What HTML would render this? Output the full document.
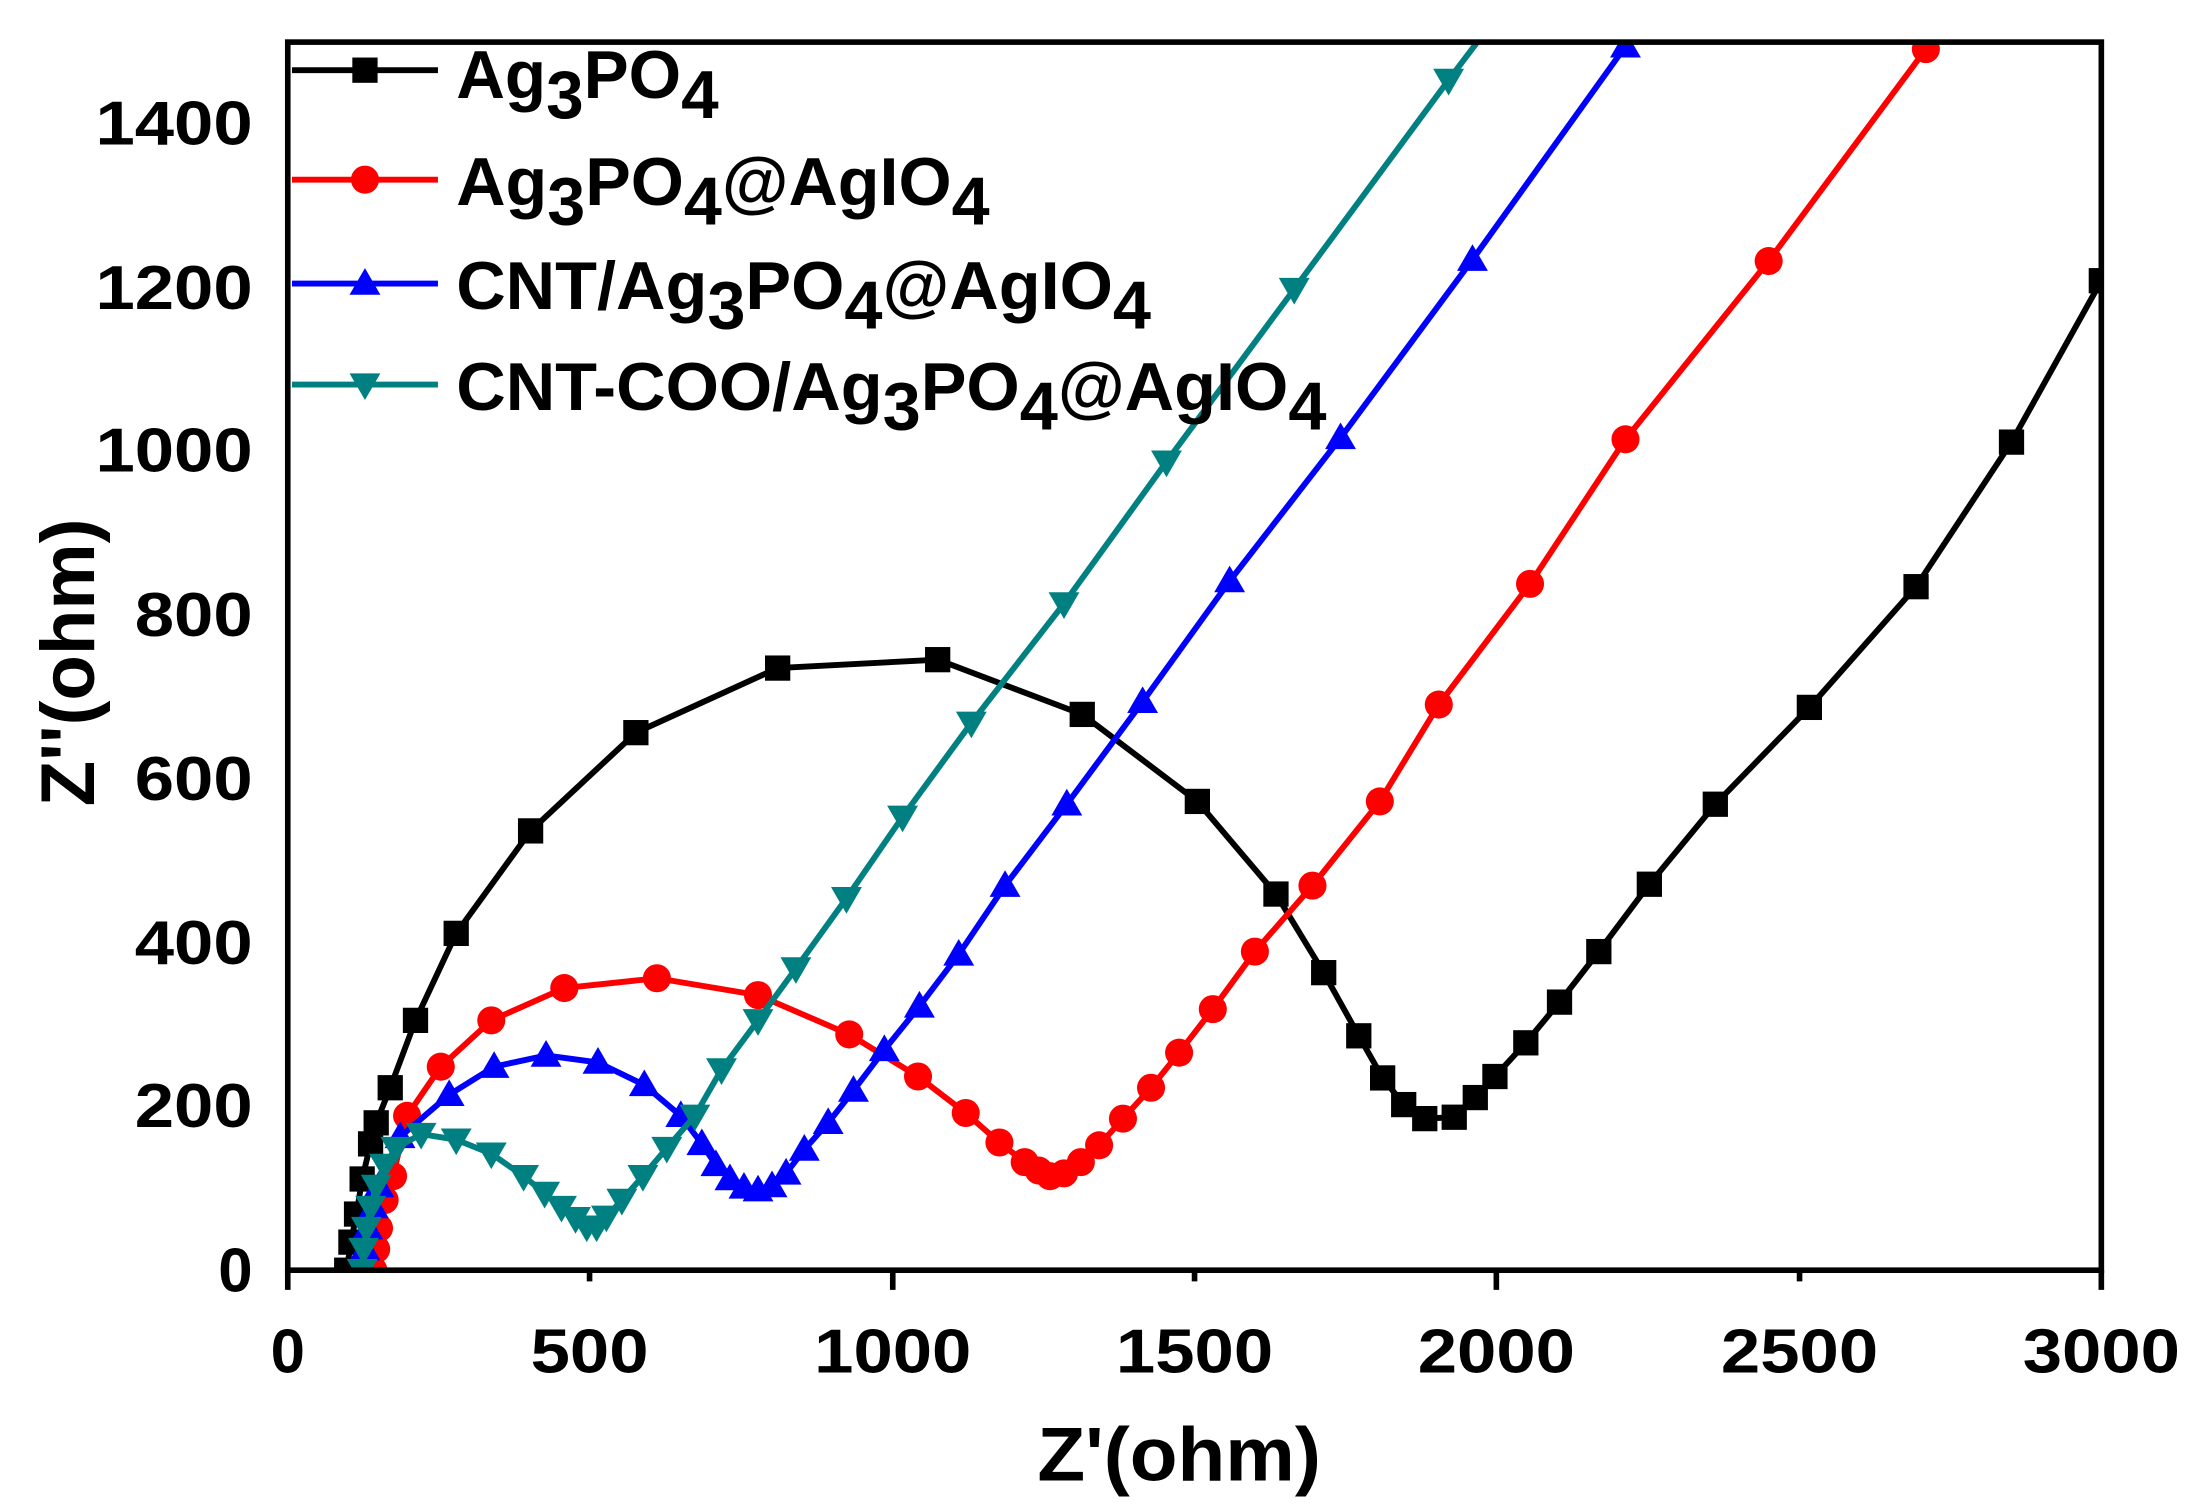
<!DOCTYPE html>
<html><head><meta charset="utf-8"><style>html,body{margin:0;padding:0;background:#fff}svg{display:block}</style></head><body>
<svg width="2201" height="1506" viewBox="0 0 1568 1073" preserveAspectRatio="none" xmlns="http://www.w3.org/2000/svg" font-family="'Liberation Sans', sans-serif" font-weight="bold">
<defs>
<clipPath id="c"><rect x="205" y="30" width="1292" height="875"/></clipPath>
<marker id="sq" markerUnits="userSpaceOnUse" markerWidth="20" markerHeight="20" refX="10" refY="10" overflow="visible"><rect x="1" y="1" width="18" height="18" fill="#000"/></marker>
<marker id="ci" markerUnits="userSpaceOnUse" markerWidth="20" markerHeight="20" refX="10" refY="10" overflow="visible"><circle cx="10" cy="10" r="10" fill="#f00"/></marker>
<marker id="tu" markerUnits="userSpaceOnUse" markerWidth="20" markerHeight="20" refX="10" refY="10" overflow="visible"><path d="M10,-1 L21,18 L-1,18Z" fill="#00f"/></marker>
<marker id="td" markerUnits="userSpaceOnUse" markerWidth="20" markerHeight="20" refX="10" refY="10" overflow="visible"><path d="M-1,2 L21,2 L10,21Z" fill="#008080"/></marker>
</defs>
<g clip-path="url(#c)" fill="none" stroke-width="4.2" stroke-linejoin="round">
<polyline stroke="#000" marker-start="url(#sq)" marker-mid="url(#sq)" marker-end="url(#sq)" points="247,905 250,885 254,865 258,840 264,815 268,800 278,775 296,727 325,665 378,592 453,522 554,476 668,470 771,509 853,571 909,637 943,693 968,738 985,768 1000,787 1015,797 1036,796 1051,782 1065,767 1087,743 1111,714 1139,678 1175,630 1222,573 1289,504 1365,418 1433,315 1497,200"/>
<polyline stroke="#f00" marker-start="url(#ci)" marker-mid="url(#ci)" marker-end="url(#ci)" points="266,905 268,890 270,875 274,855 280,838 290,795 314,760 350,727 402,704 468,697 540,709 605,737 654,767 688,793 712,814 730,828 740,834 748,838 758,836 770,828 783,816 800,797 820,775 840,750 864,719 894,678 935,631 983,571 1025,502 1090,416 1158,313 1260,186 1372,35"/>
<polyline stroke="#00f" marker-start="url(#tu)" marker-mid="url(#tu)" marker-end="url(#tu)" points="258,905 260,890 262,875 266,860 270,845 285,810 320,780 352,760 389,752 426,757 459,773 485,795 500,815 510,830 520,840 530,846 540,848 550,845 560,836 573,819 590,800 608,777 630,748 655,717 683,680 716,631 760,573 814,500 876,414 955,312 1049,185 1158,33"/>
<polyline stroke="#008080" marker-start="url(#td)" marker-mid="url(#td)" marker-end="url(#td)" points="258,905 259,890 261,875 264,860 268,845 274,830 282,818 300,808 325,812 350,822 373,838 388,850 400,860 410,868 418,874 425,874 432,867 443,855 458,838 475,818 495,795 514,762 540,727 567,690 603,640 643,582 692,515 758,430 831,329 922,206 1032,57 1060,20"/>
</g>
<g stroke="#000" stroke-width="4" fill="none">
<rect x="205" y="30" width="1292" height="875"/>
<path d="M205,905v14 M420,905v8 M636,905v14 M851,905v8 M1066,905v14 M1282,905v8 M1497,905v14"/>
</g>
<g font-size="44" text-anchor="end">
<text x="180" y="920">0</text><text x="180" y="803" textLength="84" lengthAdjust="spacingAndGlyphs">200</text><text x="180" y="687" textLength="84" lengthAdjust="spacingAndGlyphs">400</text><text x="180" y="570" textLength="84" lengthAdjust="spacingAndGlyphs">600</text><text x="180" y="453" textLength="84" lengthAdjust="spacingAndGlyphs">800</text><text x="180" y="336" textLength="112" lengthAdjust="spacingAndGlyphs">1000</text><text x="180" y="220" textLength="112" lengthAdjust="spacingAndGlyphs">1200</text><text x="180" y="103" textLength="112" lengthAdjust="spacingAndGlyphs">1400</text>
</g>
<g font-size="44" text-anchor="middle">
<text x="205" y="978">0</text><text x="420" y="978" textLength="84" lengthAdjust="spacingAndGlyphs">500</text><text x="636" y="978" textLength="112" lengthAdjust="spacingAndGlyphs">1000</text><text x="851" y="978" textLength="112" lengthAdjust="spacingAndGlyphs">1500</text><text x="1066" y="978" textLength="112" lengthAdjust="spacingAndGlyphs">2000</text><text x="1282" y="978" textLength="112" lengthAdjust="spacingAndGlyphs">2500</text><text x="1497" y="978" textLength="112" lengthAdjust="spacingAndGlyphs">3000</text>
</g>
<text x="840" y="1055" font-size="54" text-anchor="middle" textLength="202" lengthAdjust="spacingAndGlyphs">Z'(ohm)</text>
<text transform="translate(67,472) rotate(-90)" font-size="54" text-anchor="middle" textLength="205" lengthAdjust="spacingAndGlyphs">Z''(ohm)</text>
<g stroke-width="4.2">
<line x1="208" y1="50" x2="312" y2="50" stroke="#000"/><rect x="251" y="41" width="18" height="18" fill="#000"/>
<line x1="208" y1="128" x2="312" y2="128" stroke="#f00"/><circle cx="260" cy="128" r="10" fill="#f00"/>
<line x1="208" y1="202" x2="312" y2="202" stroke="#00f"/><path d="M260,191 L271,210 L249,210Z" fill="#00f"/>
<line x1="208" y1="274" x2="312" y2="274" stroke="#008080"/><path d="M249,266 L271,266 L260,285Z" fill="#008080"/>
</g>
<g font-size="48">
<text x="325" y="70" textLength="187" lengthAdjust="spacingAndGlyphs">Ag<tspan dy="14">3</tspan><tspan dy="-14">PO</tspan><tspan dy="14">4</tspan></text>
<text x="325" y="146" textLength="380" lengthAdjust="spacingAndGlyphs">Ag<tspan dy="14">3</tspan><tspan dy="-14">PO</tspan><tspan dy="14">4</tspan><tspan dy="-14">@AgIO</tspan><tspan dy="14">4</tspan></text>
<text x="325" y="220" textLength="495" lengthAdjust="spacingAndGlyphs">CNT/Ag<tspan dy="14">3</tspan><tspan dy="-14">PO</tspan><tspan dy="14">4</tspan><tspan dy="-14">@AgIO</tspan><tspan dy="14">4</tspan></text>
<text x="325" y="292" textLength="620" lengthAdjust="spacingAndGlyphs">CNT-COO/Ag<tspan dy="14">3</tspan><tspan dy="-14">PO</tspan><tspan dy="14">4</tspan><tspan dy="-14">@AgIO</tspan><tspan dy="14">4</tspan></text>
</g>
</svg>
</body></html>
